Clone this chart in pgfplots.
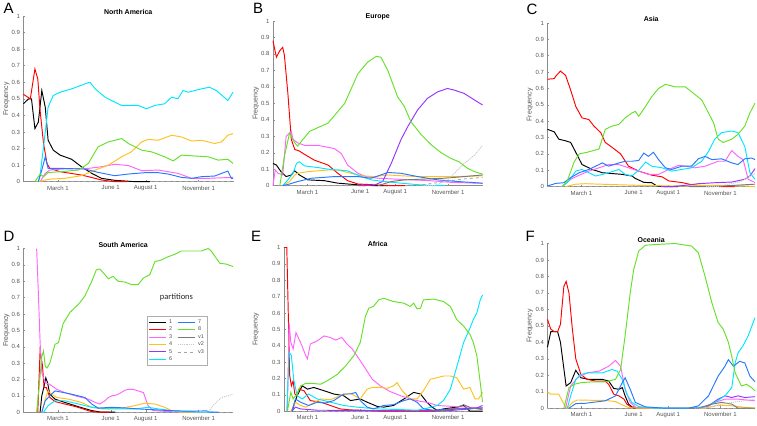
\documentclass[border=0pt]{standalone}
\usepackage{pgfplots}
\pgfplotsset{compat=1.18}
\usepackage{fontspec}
\setmainfont{Liberation Sans}
\setsansfont{Liberation Sans}
\newfontfamily\calib{Carlito}
\definecolor{c1}{RGB}{0,0,0}
\definecolor{c2}{RGB}{255,0,0}
\definecolor{c3}{RGB}{255,100,255}
\definecolor{c4}{RGB}{255,192,32}
\definecolor{c5}{RGB}{153,51,255}
\definecolor{c6}{RGB}{0,230,255}
\definecolor{c7}{RGB}{38,120,255}
\definecolor{c8}{RGB}{102,224,40}
\definecolor{cv1}{RGB}{120,120,120}
\definecolor{cv2}{RGB}{200,200,200}
\definecolor{cv3}{RGB}{165,165,165}
\definecolor{axgray}{RGB}{140,140,140}
\definecolor{txtgray}{RGB}{85,85,85}
\tikzset{
 s1/.style={c1, line width=0.95pt},
 s2/.style={c2, line width=0.95pt},
 s3/.style={c3, line width=0.95pt},
 s4/.style={c4, line width=0.95pt},
 s5/.style={c5, line width=0.95pt},
 s6/.style={c6, line width=0.95pt},
 s7/.style={c7, line width=0.95pt},
 s8/.style={c8, line width=0.95pt},
 sv1/.style={cv1, line width=0.95pt},
 sv2/.style={cv2, line width=0.95pt, densely dotted},
 sv3/.style={cv3, line width=0.8pt, dashed},
 lettr/.style={anchor=base west, inner sep=0pt, font=\fontsize{15}{15}\selectfont},
}
\pgfplotsset{
 panel/.style={
  scale only axis, anchor=south west,
  axis lines*=left,
  axis line style={-, axgray, line width=0.5pt},
  ymin=0, ymax=1,
  ytick={0,0.1,0.2,0.3,0.4,0.5,0.6,0.7,0.8,0.9,1},
  yticklabels={0,0.1,0.2,0.3,0.4,0.5,0.6,0.7,0.8,0.9,1},
  xtick={60,152,213,305},
  xticklabels={March 1,June 1,August 1,November 1},
  tick align=inside,
  tick style={axgray, line width=0.4pt},
  major tick length=2pt,
  ticklabel style={font=\fontsize{6}{7}\selectfont, text=txtgray},
  xticklabel style={yshift=-0.5pt},
  ylabel={Frequency},
  ylabel style={font=\fontsize{7}{8}\selectfont, text=txtgray, anchor=center},
  title style={font=\bfseries\fontsize{7}{8}\selectfont, yshift=-8.5pt},
  clip=false,
 },
}
\begin{document}
\begin{tikzpicture}
\path (0pt,0pt) rectangle (757pt,-426pt);
\node[lettr] at (2pt,-13.5pt) {A};
\node[lettr] at (252pt,-13.5pt) {B};
\node[lettr] at (526pt,-15pt) {C};
\node[lettr] at (2pt,-242pt) {D};
\node[lettr] at (250pt,-242pt) {E};
\node[lettr] at (525pt,-242pt) {F};

% ---------------- A North America
\begin{axis}[panel, at={(22pt,-182pt)}, width=210pt, height=166pt, xmin=0, xmax=365,
 title={North America}, ylabel style={at={(axis description cs:-0.081,0.5)}}]
\addplot[sv3] coordinates {(20,0)(365,0)};
\addplot[s1] coordinates {(0,0.47)(9,0.50)(14,0.50)(20,0.32)(26,0.36)(32,0.55)(38,0.45)(43,0.25)(52,0.19)(64,0.16)(84,0.135)(101,0.09)(119,0.05)(136,0.02)(159,0.008)(194,0)(220,0)};
\addplot[s2] coordinates {(0,0.527)(12,0.50)(20,0.68)(25,0.62)(29,0.43)(35,0.23)(41,0.11)(46,0.08)(64,0.06)(101,0.04)(119,0.025)(136,0.01)(159,0)(180,0)};
\addplot[s3] coordinates {(29,0)(38,0.05)(46,0.07)(67,0.076)(113,0.08)(136,0.09)(159,0.105)(183,0.097)(206,0.066)(235,0.07)(269,0.05)(293,0.02)(322,0.02)(365,0.026)};
\addplot[s4] coordinates {(26,0)(38,0.01)(49,0.016)(72,0.02)(101,0.036)(125,0.07)(148,0.10)(171,0.15)(188,0.18)(206,0.24)(217,0.255)(235,0.25)(258,0.28)(275,0.27)(293,0.245)(310,0.25)(333,0.23)(345,0.24)(356,0.28)(365,0.29)};
\addplot[s6] coordinates {(26,0)(29,0.04)(35,0.21)(43,0.45)(52,0.52)(64,0.54)(84,0.56)(107,0.59)(116,0.60)(125,0.56)(142,0.51)(159,0.48)(171,0.46)(200,0.46)(214,0.44)(229,0.46)(246,0.47)(258,0.51)(269,0.50)(278,0.55)(287,0.54)(310,0.56)(324,0.57)(336,0.55)(356,0.49)(365,0.54)};
\addplot[s7] coordinates {(26,0)(32,0.07)(38,0.15)(43,0.08)(67,0.08)(107,0.076)(130,0.056)(159,0.036)(183,0.046)(211,0.054)(235,0.054)(252,0.046)(275,0.026)(293,0.02)(310,0.03)(333,0.034)(356,0.064)(362,0.02)(365,0.02)};
\addplot[s8] coordinates {(20,0)(29,0.046)(35,0.03)(43,0.055)(64,0.06)(96,0.07)(113,0.11)(130,0.21)(148,0.24)(171,0.26)(183,0.23)(206,0.19)(223,0.18)(246,0.15)(261,0.125)(275,0.16)(298,0.155)(322,0.15)(339,0.13)(356,0.135)(365,0.11)};
\end{axis}

% ---------------- B Europe
\begin{axis}[panel, at={(272pt,-186pt)}, width=210pt, height=165pt, xmin=0, xmax=365,
 title={Europe}, ylabel style={at={(axis description cs:-0.081,0.5)}}]
\addplot[sv3] coordinates {(10,0)(250,0)(290,0.02)(330,0.04)(365,0.05)};
\addplot[s1] coordinates {(0,0.135)(6,0.125)(14,0.085)(23,0.055)(32,0.065)(38,0.09)(46,0.065)(61,0.035)(90,0.03)(113,0.015)(148,0.005)(177,0)(200,0)};
\addplot[s2] coordinates {(0,0.88)(6,0.78)(12,0.82)(17,0.84)(20,0.79)(26,0.56)(32,0.28)(38,0.22)(46,0.21)(55,0.19)(72,0.155)(96,0.125)(113,0.075)(130,0.03)(148,0.01)(183,0.004)(206,0)(230,0)};
\addplot[s3] coordinates {(0,0)(4,0.095)(9,0.075)(17,0.065)(23,0.30)(32,0.33)(35,0.28)(43,0.26)(55,0.245)(78,0.245)(107,0.225)(119,0.195)(130,0.125)(148,0.075)(162,0.055)(183,0.045)(211,0.04)(240,0.035)(275,0.03)(310,0.02)(365,0.014)};
\addplot[s4] coordinates {(17,0)(29,0.025)(38,0.065)(43,0.075)(61,0.085)(96,0.095)(113,0.095)(130,0.08)(154,0.06)(177,0.055)(200,0.065)(223,0.06)(252,0.055)(287,0.055)(322,0.055)(365,0.06)};
\addplot[s5] coordinates {(150,0)(159,0)(177,0.004)(191,0.025)(206,0.135)(223,0.28)(235,0.36)(252,0.46)(269,0.53)(287,0.57)(304,0.59)(316,0.58)(333,0.56)(351,0.52)(365,0.49)};
\addplot[s6] coordinates {(17,0)(26,0.035)(35,0.075)(41,0.135)(46,0.145)(55,0.12)(78,0.11)(96,0.10)(113,0.095)(130,0.09)(154,0.055)(171,0.035)(194,0.025)(223,0.015)(252,0.006)(280,0)(300,0)};
\addplot[s7] coordinates {(17,0)(29,0.01)(43,0.025)(67,0.045)(107,0.055)(148,0.055)(171,0.045)(188,0.065)(200,0.08)(223,0.075)(252,0.055)(287,0.035)(322,0.025)(365,0.015)};
\addplot[s8] coordinates {(12,0)(20,0.18)(29,0.32)(38,0.26)(43,0.24)(52,0.28)(64,0.33)(96,0.38)(125,0.50)(148,0.68)(165,0.75)(180,0.785)(188,0.78)(200,0.70)(217,0.54)(229,0.48)(240,0.39)(258,0.31)(275,0.25)(293,0.20)(310,0.165)(324,0.145)(339,0.105)(351,0.085)(365,0.07)};
\addplot[sv1] coordinates {(183,0)(206,0.025)(229,0.035)(264,0.04)(298,0.045)(333,0.055)(365,0.065)};
\addplot[sv2] coordinates {(260,0)(281,0)(304,0.035)(316,0.075)(333,0.135)(351,0.185)(365,0.245)};
\end{axis}

% ---------------- C Asia
\begin{axis}[panel, at={(547pt,-187pt)}, width=208pt, height=164pt, xmin=0, xmax=366,
 title={Asia}, ylabel style={at={(axis description cs:-0.084,0.5)}}]
\addplot[sv3] coordinates {(0,0)(366,0)};
\addplot[s1] coordinates {(0,0.35)(12,0.335)(20,0.29)(32,0.28)(41,0.27)(50,0.21)(61,0.135)(79,0.105)(97,0.085)(114,0.08)(132,0.075)(149,0.065)(155,0.05)(170,0.026)(184,0.024)(193,0.004)(208,0)(230,0)};
\addplot[s2] coordinates {(0,0.656)(12,0.66)(15,0.676)(23,0.706)(32,0.68)(41,0.59)(50,0.49)(61,0.42)(73,0.41)(82,0.37)(94,0.33)(102,0.27)(114,0.24)(129,0.20)(143,0.125)(161,0.095)(184,0.07)(202,0.06)(214,0.035)(237,0.025)(254,0.012)(278,0.004)(307,0)(330,0)};
\addplot[s3] coordinates {(26,0)(41,0.045)(56,0.07)(73,0.095)(91,0.115)(108,0.135)(126,0.135)(143,0.115)(161,0.095)(178,0.075)(196,0.075)(214,0.105)(231,0.13)(243,0.125)(260,0.115)(278,0.125)(301,0.155)(313,0.155)(325,0.22)(336,0.185)(345,0.165)(354,0.045)(366,0.025)};
\addplot[s4] coordinates {(32,0)(50,0.015)(67,0.018)(102,0.014)(161,0.008)(219,0.004)(307,0.008)(348,0.004)(366,0)};
\addplot[s5] coordinates {(200,0)(219,0)(243,0.008)(266,0.018)(295,0.024)(325,0.028)(348,0.045)(357,0.065)(366,0.11)};
\addplot[s6] coordinates {(26,0)(38,0.035)(50,0.095)(61,0.105)(70,0.09)(85,0.065)(97,0.075)(108,0.085)(126,0.105)(137,0.075)(149,0.065)(161,0.10)(173,0.15)(184,0.125)(202,0.115)(219,0.095)(237,0.105)(254,0.115)(272,0.155)(284,0.215)(295,0.29)(307,0.33)(325,0.34)(336,0.33)(348,0.245)(357,0.085)(366,0.045)};
\addplot[s7] coordinates {(0,0.004)(15,0.02)(29,0.024)(41,0.055)(56,0.085)(73,0.105)(82,0.12)(97,0.145)(108,0.125)(126,0.145)(137,0.155)(149,0.155)(161,0.16)(170,0.205)(178,0.185)(187,0.21)(196,0.165)(208,0.115)(219,0.105)(237,0.125)(254,0.125)(266,0.17)(278,0.185)(290,0.165)(307,0.17)(325,0.145)(336,0.135)(348,0.17)(360,0.175)(366,0.165)};
\addplot[s8] coordinates {(26,0)(35,0.035)(47,0.15)(56,0.20)(70,0.21)(91,0.23)(102,0.35)(114,0.37)(126,0.38)(137,0.42)(149,0.45)(155,0.46)(161,0.43)(173,0.49)(184,0.55)(196,0.60)(208,0.625)(225,0.61)(243,0.61)(254,0.58)(272,0.53)(284,0.45)(293,0.39)(301,0.29)(310,0.27)(325,0.29)(336,0.32)(348,0.37)(357,0.45)(366,0.51)};
\addplot[sv1] coordinates {(250,0)(290,0)(330,0.008)(366,0.015)};
\addplot[sv2] coordinates {(280,0)(300,0)(340,0.03)(366,0.08)};
\end{axis}

% ---------------- D South America
\begin{axis}[panel, at={(22pt,-413pt)}, width=210pt, height=164pt, xmin=0, xmax=365,
 title={South America}, title style={at={(0.476,1)}},
 ylabel style={at={(axis description cs:-0.081,0.5)}},
 legend columns=2,
 legend cell align=left,
 legend image code/.code={\draw[#1] (0pt,0pt) -- (17pt,0pt);},
 legend style={at={(axis description cs:0.59,0.585)}, anchor=north west,
   draw=axgray!70, fill=white, font=\fontsize{5.5}{5.5}\selectfont, text=txtgray,
   inner sep=1pt, row sep=-1.9pt, column sep=1pt, /tikz/every even column/.append style={column sep=3pt}},
]
\addplot[sv3, forget plot] coordinates {(30,0)(365,0)};
\addplot[s1, forget plot] coordinates {(29,0)(32,0.10)(36,0.16)(39,0.21)(42,0.18)(46,0.11)(55,0.08)(72,0.06)(90,0.04)(104,0.025)(119,0.01)(136,0)(160,0)};
\addplot[s2, forget plot] coordinates {(25,0)(29,0.375)(33,0.29)(36,0.15)(40,0.15)(46,0.09)(55,0.065)(72,0.05)(90,0.035)(104,0.02)(116,0.006)(130,0)(150,0)};
\addplot[s3, forget plot] coordinates {(23,1.0)(26,0.73)(29,0.43)(32,0.24)(38,0.18)(46,0.17)(58,0.14)(72,0.12)(90,0.10)(113,0.08)(125,0.06)(133,0.05)(142,0.07)(148,0.09)(154,0.10)(162,0.105)(168,0.115)(177,0.135)(185,0.14)(191,0.14)(200,0.13)(209,0.12)(217,0.04)(226,0.01)(252,0.004)(280,0)};
\addplot[s4, forget plot] coordinates {(32,0)(38,0.08)(43,0.13)(49,0.11)(58,0.09)(78,0.08)(101,0.06)(119,0.03)(136,0.02)(171,0.025)(194,0.04)(211,0.055)(229,0.05)(246,0.03)(258,0.01)(275,0)(300,0)};
\addplot[s6, forget plot] coordinates {(35,0)(43,0.04)(55,0.07)(72,0.07)(96,0.05)(119,0.03)(148,0.02)(194,0.02)(217,0.03)(235,0.02)(258,0.01)(287,0.004)(310,0)(330,0)};
\addplot[s7, forget plot] coordinates {(32,0)(38,0.07)(46,0.10)(55,0.13)(70,0.12)(84,0.11)(107,0.09)(119,0.05)(130,0.025)(154,0.03)(177,0.026)(200,0.02)(223,0.016)(252,0.01)(287,0.006)(319,0.008)(324,0)(340,0)};
\addplot[s8, forget plot] coordinates {(23,0)(29,0.22)(32,0.34)(35,0.375)(38,0.28)(41,0.27)(46,0.30)(55,0.415)(61,0.425)(69,0.54)(81,0.61)(96,0.66)(107,0.71)(119,0.80)(127,0.87)(133,0.875)(142,0.84)(148,0.815)(156,0.83)(165,0.80)(177,0.795)(188,0.78)(200,0.78)(209,0.82)(220,0.84)(229,0.92)(240,0.93)(252,0.95)(264,0.965)(275,0.985)(293,0.985)(310,0.985)(322,1.0)(327,0.985)(336,0.94)(342,0.91)(353,0.905)(365,0.89)};
\addplot[sv2, forget plot] coordinates {(300,0)(322,0)(330,0.04)(339,0.07)(345,0.09)(356,0.10)(365,0.11)};
\addlegendimage{s1}\addlegendentry{1}
\addlegendimage{s7}\addlegendentry{7}
\addlegendimage{s2}\addlegendentry{2}
\addlegendimage{s8}\addlegendentry{8}
\addlegendimage{s3}\addlegendentry{3}
\addlegendimage{sv1}\addlegendentry{v1}
\addlegendimage{s4}\addlegendentry{4}
\addlegendimage{sv2}\addlegendentry{v2}
\addlegendimage{s5}\addlegendentry{5}
\addlegendimage{sv3}\addlegendentry{v3}
\addlegendimage{s6}\addlegendentry{6}
\node[font=\calib\fontsize{8.5}{9}\selectfont, text=black!85] at (axis description cs:0.73,0.70) {partitions};
\end{axis}

% ---------------- E Africa
\begin{axis}[panel, at={(283pt,-412pt)}, width=199pt, height=164pt, xmin=19, xmax=365,
 title={Africa}, title style={at={(0.472,1)}},
 ylabel style={at={(axis description cs:-0.141,0.5)}}]
\addplot[sv3] coordinates {(30,0)(365,0)};
\addplot[s1] coordinates {(33,0)(42,0.095)(51,0.155)(60,0.135)(71,0.145)(89,0.125)(106,0.105)(123,0.095)(135,0.065)(152,0.075)(164,0.055)(181,0.03)(193,0.025)(210,0.035)(228,0.075)(245,0.115)(257,0.105)(268,0.055)(277,0.025)(286,0.005)(297,0.014)(320,0.025)(332,0.035)(343,0)(365,0)};
\addplot[s2] coordinates {(19,1.0)(24,1.0)(29,0.22)(32,0.155)(35,0.185)(38,0.105)(42,0.095)(45,0.135)(54,0.125)(65,0.065)(83,0.055)(100,0.035)(117,0.014)(135,0.008)(193,0)(280,0)(320,0.014)(361,0.018)(365,0.02)};
\addplot[s3] coordinates {(25,0)(28,0.54)(31,0.42)(35,0.38)(40,0.48)(48,0.42)(57,0.34)(60,0.32)(65,0.41)(77,0.43)(89,0.46)(100,0.45)(109,0.435)(120,0.45)(129,0.41)(138,0.38)(146,0.34)(161,0.26)(173,0.195)(187,0.155)(204,0.12)(222,0.095)(239,0.075)(257,0.06)(268,0.055)(286,0.035)(309,0.03)(338,0.025)(365,0.02)};
\addplot[s4] coordinates {(31,0)(39,0.055)(48,0.035)(57,0.025)(68,0.045)(83,0.075)(100,0.07)(117,0.095)(135,0.11)(152,0.075)(164,0.135)(173,0.145)(187,0.145)(199,0.14)(210,0.155)(216,0.175)(225,0.125)(239,0.075)(251,0.075)(262,0.125)(274,0.195)(286,0.205)(297,0.215)(309,0.215)(320,0.205)(332,0.135)(343,0.145)(352,0.075)(358,0.075)(365,0.115)};
\addplot[s5] coordinates {(33,0)(39,0.025)(48,0.014)(77,0.006)(193,0.004)(309,0.004)(343,0.014)(355,0.02)(365,0.035)};
\addplot[s6] coordinates {(24,0)(28,0.36)(32,0.34)(36,0.195)(42,0.095)(51,0.075)(62,0.105)(77,0.075)(100,0.055)(123,0.035)(146,0.025)(181,0.014)(222,0.01)(251,0.006)(268,0.018)(286,0.035)(297,0.065)(309,0.135)(320,0.27)(332,0.42)(341,0.49)(349,0.56)(355,0.60)(361,0.68)(365,0.71)};
\addplot[s7] coordinates {(33,0)(39,0.075)(48,0.055)(62,0.035)(77,0.055)(91,0.05)(106,0.065)(123,0.105)(135,0.105)(144,0.115)(152,0.065)(164,0.025)(175,0.014)(193,0.035)(210,0.04)(228,0.065)(239,0.075)(251,0.055)(262,0.014)(280,0.006)(309,0.014)(338,0.014)(365,0.02)};
\addplot[s8] coordinates {(25,0)(31,0.115)(35,0.075)(42,0.105)(48,0.155)(57,0.17)(68,0.17)(83,0.165)(94,0.185)(112,0.225)(126,0.275)(141,0.34)(152,0.42)(161,0.58)(167,0.63)(175,0.64)(184,0.68)(193,0.69)(210,0.67)(228,0.66)(239,0.64)(245,0.66)(251,0.625)(257,0.63)(262,0.68)(280,0.685)(297,0.67)(309,0.64)(320,0.56)(332,0.52)(343,0.47)(349,0.42)(355,0.34)(361,0.175)(365,0.055)};
\addplot[sv1] coordinates {(290,0)(320,0.02)(332,0.04)(345,0.02)(365,0.01)};
\end{axis}

% ---------------- F Oceania
\begin{axis}[panel, at={(547pt,-409pt)}, width=208pt, height=165pt, xmin=0, xmax=366,
 title={Oceania}, ylabel style={at={(axis description cs:-0.084,0.5)}}]
\addplot[sv3] coordinates {(0,0)(366,0)};
\addplot[s1] coordinates {(0,0.37)(6,0.465)(18,0.465)(23,0.40)(29,0.24)(33,0.135)(41,0.155)(50,0.23)(59,0.185)(73,0.175)(97,0.175)(108,0.165)(117,0.12)(126,0.115)(132,0.125)(137,0.075)(143,0.025)(152,0)(170,0)};
\addplot[s2] coordinates {(0,0.54)(6,0.48)(12,0.465)(18,0.465)(23,0.51)(29,0.74)(33,0.77)(38,0.70)(44,0.48)(50,0.30)(59,0.205)(70,0.175)(85,0.165)(102,0.165)(108,0.145)(117,0.085)(126,0.075)(135,0.055)(140,0.025)(149,0.004)(161,0)(180,0)};
\addplot[s3] coordinates {(32,0)(41,0.135)(53,0.185)(70,0.215)(91,0.225)(108,0.255)(120,0.29)(129,0.255)(137,0.115)(146,0.035)(158,0)(278,0)(295,0.035)(313,0.055)(336,0.055)(366,0.045)};
\addplot[s4] coordinates {(0,0.10)(6,0.085)(20,0.085)(29,0.025)(35,0)(44,0.035)(53,0.05)(79,0.048)(102,0.048)(120,0.04)(132,0.02)(143,0.004)(160,0)(278,0)(301,0.018)(325,0.015)(348,0.005)(366,0)};
\addplot[s5] coordinates {(250,0)(266,0)(284,0.015)(301,0.055)(313,0.075)(325,0.065)(336,0.075)(348,0.065)(366,0.07)};
\addplot[s6] coordinates {(35,0)(41,0.075)(50,0.175)(59,0.205)(73,0.215)(97,0.215)(114,0.235)(123,0.225)(132,0.175)(140,0.085)(149,0.035)(161,0.01)(190,0)(254,0)(278,0.01)(295,0.035)(313,0.075)(325,0.125)(331,0.275)(336,0.335)(345,0.38)(354,0.44)(366,0.55)};
\addplot[s7] coordinates {(38,0)(50,0.028)(67,0.03)(102,0.045)(120,0.075)(132,0.155)(137,0.185)(146,0.115)(155,0.035)(173,0.008)(208,0)(249,0)(266,0.014)(284,0.075)(301,0.195)(313,0.255)(319,0.295)(328,0.255)(339,0.285)(348,0.275)(357,0.195)(366,0.16)};
\addplot[s8] coordinates {(29,0)(38,0.125)(47,0.145)(59,0.155)(79,0.16)(102,0.16)(120,0.175)(129,0.235)(137,0.44)(146,0.70)(152,0.84)(161,0.955)(173,0.99)(196,0.995)(225,1.0)(254,0.985)(266,0.945)(278,0.80)(290,0.64)(301,0.52)(310,0.48)(319,0.40)(325,0.315)(331,0.215)(342,0.135)(351,0.145)(360,0.125)(366,0.105)};
\addplot[sv1] coordinates {(250,0)(266,0)(290,0.025)(307,0.035)(325,0.025)(336,0)(366,0)};
\addplot[sv2] coordinates {(260,0)(278,0)(307,0.025)(336,0.04)(366,0.055)};
\end{axis}
\end{tikzpicture}
\end{document}
